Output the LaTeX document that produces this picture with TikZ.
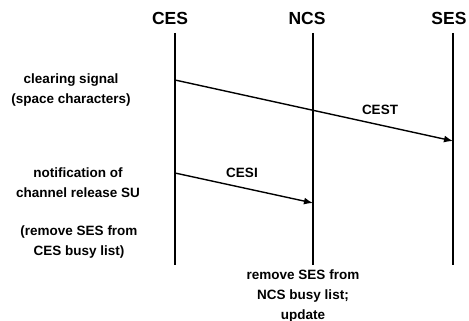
\documentclass[tikz,border=0pt]{standalone}
\usepackage{fontspec}
\setmainfont{Liberation Sans}
\usetikzlibrary{arrows.meta}
\begin{document}
\begin{tikzpicture}[x=1pt,y=-1pt,
  head/.style={font=\fontsize{17.5}{20}\selectfont\bfseries, inner sep=0pt},
  lbl/.style={font=\fontsize{13.5}{20}\selectfont\bfseries, align=center, inner sep=0pt},
  life/.style={line width=1.1pt},
  msg/.style={line width=1.4pt, -{Latex[length=9pt,width=7pt]}}]
\useasboundingbox (0,0) rectangle (469,321);
\node[head] (hces) at (170,18) {CES};
\node[head] (hncs) at (307,18) {NCS};
\node[head] (hses) at (449,18) {SES};
\coordinate (ces0) at (175,33); \coordinate (ces1) at (175,265);
\coordinate (ncs0) at (313,33); \coordinate (ncs1) at (313,265);
\coordinate (ses0) at (453,33); \coordinate (ses1) at (453,265);
\draw[life] (ces0) -- (ces1);
\draw[life] (ncs0) -- (ncs1);
\draw[life] (ses0) -- (ses1);
\coordinate (a1s) at (175,80); \coordinate (a1e) at (453,141);
\coordinate (a2s) at (175,173); \coordinate (a2e) at (313,203);
\draw[msg] (a1s) -- (a1e);
\draw[msg] (a2s) -- (a2e);
\node[lbl] (cest) at (380,110) {CEST};
\node[lbl] (cesi) at (242,173) {CESI};
\node[lbl] (clr) at (71,90) {clearing signal\\(space characters)};
\node[lbl] (notif) at (78,183) {notification of\\channel release SU};
\node[lbl] (remc) at (79,242) {(remove SES from\\CES busy list)};
\node[lbl] (remn) at (303,296) {remove SES from\\NCS busy list;\\update};
\end{tikzpicture}
\end{document}
